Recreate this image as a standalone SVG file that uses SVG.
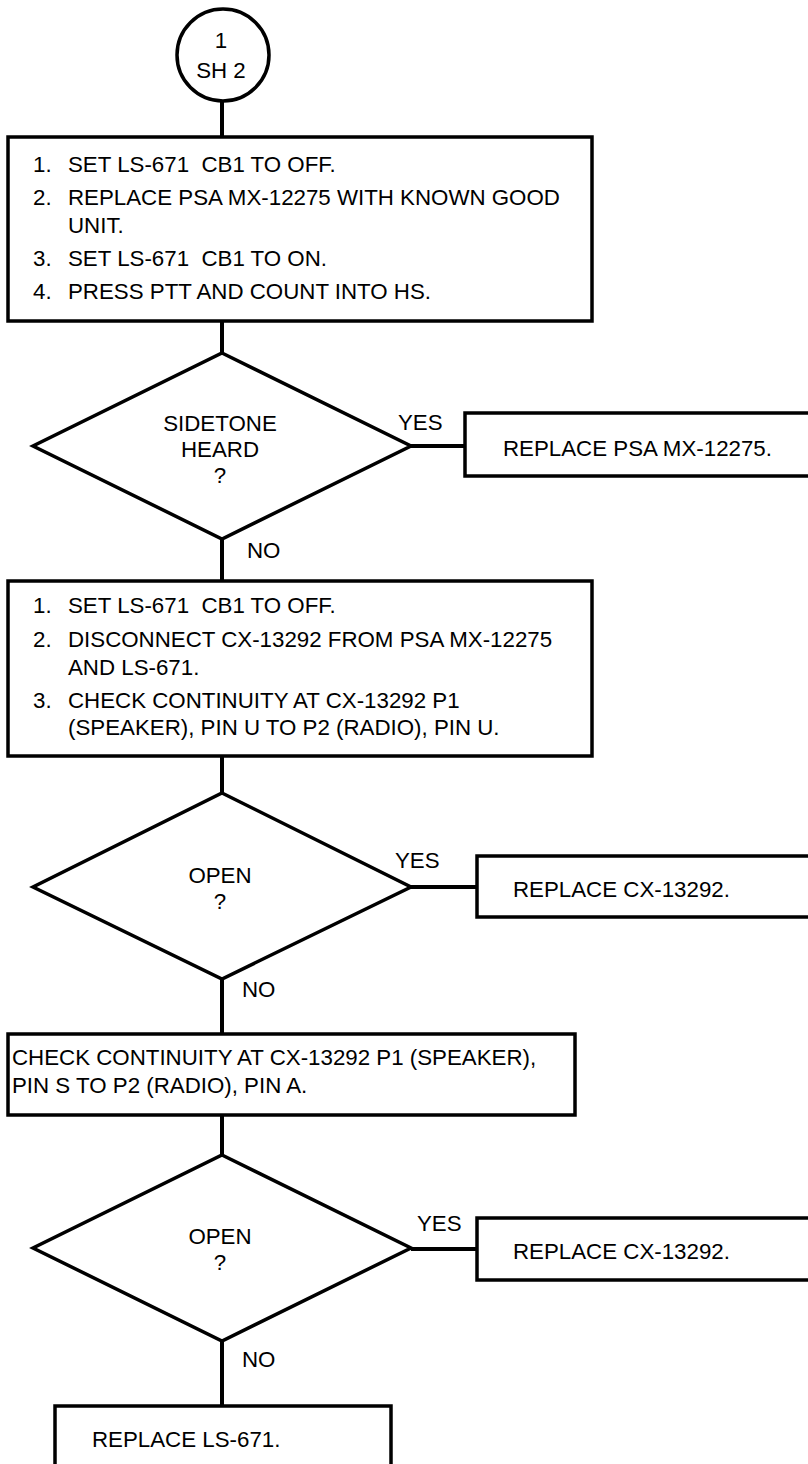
<svg xmlns="http://www.w3.org/2000/svg" width="808" height="1464" viewBox="0 0 808 1464">
<style>
  .shape { fill: #ffffff; stroke: #000000; stroke-width: 3.5; }
  .conn { stroke: #000000; stroke-width: 4; fill: none; }
  text { font-family: "Liberation Sans", Arial, sans-serif; font-size: 22.3px; fill: #000000; white-space: pre; }
  .c { text-anchor: middle; }
</style>
<rect width="808" height="1464" fill="#ffffff"/>
<g id="connectors">
  <line class="conn" x1="222" y1="101" x2="222" y2="137"/>
  <line class="conn" x1="222" y1="321" x2="222" y2="353"/>
  <line class="conn" x1="411" y1="446" x2="465" y2="446"/>
  <line class="conn" x1="222" y1="539" x2="222" y2="581"/>
  <line class="conn" x1="222" y1="756" x2="222" y2="793"/>
  <line class="conn" x1="411" y1="887" x2="477" y2="887"/>
  <line class="conn" x1="222" y1="979" x2="222" y2="1034"/>
  <line class="conn" x1="222" y1="1115" x2="222" y2="1155"/>
  <line class="conn" x1="411" y1="1249" x2="477" y2="1249"/>
  <line class="conn" x1="222" y1="1341" x2="222" y2="1406"/>
  <text x="398" y="430">YES</text>
  <text x="247" y="558">NO</text>
  <text x="395" y="868">YES</text>
  <text x="242" y="997">NO</text>
  <text x="417" y="1231">YES</text>
  <text x="242" y="1367">NO</text>
</g>
<g id="start">
  <circle class="shape" cx="223" cy="55" r="46"/>
  <text class="c" x="221" y="48">1</text>
  <text class="c" x="221" y="78">SH 2</text>
</g>
<g id="step1">
  <rect class="shape" x="8" y="137" width="584" height="184"/>
  <text x="33" y="172">1.</text><text x="68" y="172" xml:space="preserve">SET LS-671  CB1 TO OFF.</text>
  <text x="33" y="205">2.</text><text x="68" y="205">REPLACE PSA MX-12275 WITH KNOWN GOOD</text>
  <text x="68" y="233">UNIT.</text>
  <text x="33" y="266">3.</text><text x="68" y="266" xml:space="preserve">SET LS-671  CB1 TO ON.</text>
  <text x="33" y="299">4.</text><text x="68" y="299">PRESS PTT AND COUNT INTO HS.</text>
</g>
<g id="decision1">
  <polygon class="shape" points="222,353 411,446 222,539 33,446"/>
  <text class="c" x="220" y="431">SIDETONE</text>
  <text class="c" x="220" y="457">HEARD</text>
  <text class="c" x="220" y="483">?</text>
</g>
<g id="replace-psa">
  <rect class="shape" x="465" y="413" width="360" height="63"/>
  <text x="503" y="456">REPLACE PSA MX-12275.</text>
</g>
<g id="step2">
  <rect class="shape" x="8" y="581" width="584" height="175"/>
  <text x="33" y="613">1.</text><text x="68" y="613" xml:space="preserve">SET LS-671  CB1 TO OFF.</text>
  <text x="33" y="647">2.</text><text x="68" y="647">DISCONNECT CX-13292 FROM PSA MX-12275</text>
  <text x="68" y="675">AND LS-671.</text>
  <text x="33" y="708">3.</text><text x="68" y="708">CHECK CONTINUITY AT CX-13292 P1</text>
  <text x="68" y="735">(SPEAKER), PIN U TO P2 (RADIO), PIN U.</text>
</g>
<g id="decision2">
  <polygon class="shape" points="222,793 411,887 222,979 33,887"/>
  <text class="c" x="220" y="883">OPEN</text>
  <text class="c" x="220" y="909">?</text>
</g>
<g id="replace-cx-1">
  <rect class="shape" x="477" y="856" width="350" height="61"/>
  <text x="513" y="897">REPLACE CX-13292.</text>
</g>
<g id="step3">
  <rect class="shape" x="8" y="1034" width="567" height="81"/>
  <text x="12" y="1065">CHECK CONTINUITY AT CX-13292 P1 (SPEAKER),</text>
  <text x="12" y="1093">PIN S TO P2 (RADIO), PIN A.</text>
</g>
<g id="decision3">
  <polygon class="shape" points="222,1155 411,1248 222,1341 33,1248"/>
  <text class="c" x="220" y="1244">OPEN</text>
  <text class="c" x="220" y="1270">?</text>
</g>
<g id="replace-cx-2">
  <rect class="shape" x="477" y="1218" width="350" height="62"/>
  <text x="513" y="1259">REPLACE CX-13292.</text>
</g>
<g id="replace-ls">
  <rect class="shape" x="55" y="1406" width="336" height="80"/>
  <text x="92" y="1447">REPLACE LS-671.</text>
</g>
</svg>
